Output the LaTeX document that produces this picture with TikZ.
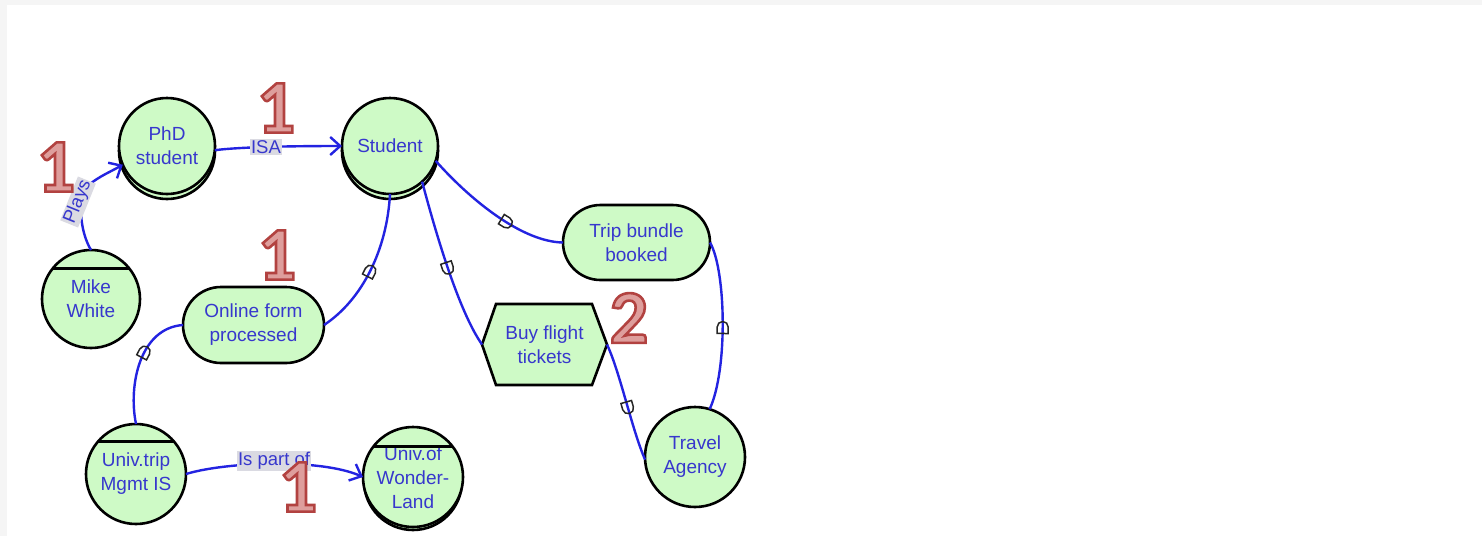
\documentclass[tikz,border=0pt]{standalone}
\usepackage{fontspec}
\setmainfont{Liberation Sans}
\newfontfamily\numfont{Carlito}
\usetikzlibrary{shapes.misc,arrows.meta}
\definecolor{nodefill}{RGB}{206,250,198}
\definecolor{lineblue}{RGB}{35,35,225}
\definecolor{textblue}{RGB}{55,55,205}
\definecolor{labelgray}{RGB}{218,218,226}
\definecolor{bgstrip}{RGB}{245,245,245}
\definecolor{numred}{RGB}{192,80,77}
\newcommand{\redno}[1]{\special{pdf:literal direct 2 Tr 2.6 w 0.70 0.26 0.25 RG 0.87 0.62 0.61 rg}#1\special{pdf:literal direct 0 Tr}}
\tikzset{
  txt/.style={font=\fontsize{19}{24}\selectfont, text=textblue, align=center},
  circ/.style={txt, circle, draw=black, line width=2.6pt, fill=nodefill, minimum size=98pt, inner sep=0pt, outer sep=0pt},
  shade/.style={draw=black, line width=2.6pt, fill=nodefill},
  stadium/.style={txt, rounded rectangle, draw=black, line width=2.6pt, fill=nodefill, inner sep=0pt, outer sep=0pt},
  chord/.style={draw=black, line width=3pt},
  conn/.style={draw=lineblue, line width=2.4pt},
  arr/.style={-{Straight Barb[length=10pt,width=18pt]}},
  lbl/.style={fill=labelgray, inner sep=1pt, font=\fontsize{18.5}{20}\selectfont, text=textblue},
  cupmark/.style={rounded rectangle, rounded rectangle left arc=none, draw=black!85, line width=1.5pt, minimum width=12pt, minimum height=11pt, inner sep=0pt, sloped},
  rednum/.style={font=\numfont\bfseries\fontsize{76}{76}\selectfont, text=numred, inner sep=0pt}
}
\begin{document}
\begin{tikzpicture}[x=1pt,y=-1pt]
\useasboundingbox (0,0) rectangle (1482,536);
\fill[bgstrip] (0,0) rectangle (1482,536);
\fill[white] (7,5) rectangle (1482,536);

% stacked bottoms
\draw[shade] (167,151) circle (48);
\draw[shade] (390,151) circle (48);
\draw[shade] (413,481) circle (49);

% nodes
\node[circ, minimum size=96pt] (phd) at (167,146) {PhD\\student};
\node[circ, minimum size=96pt] (student) at (390,146) {Student};
\node[circ] (mike) at (91,299) {Mike\\White};
\node[stadium, minimum width=141pt, minimum height=76pt] (online) at (253.5,325) {Online form\\processed};
\node[circ, minimum size=100pt] (univ) at (136,474) {Univ.trip\\Mgmt IS};
\node[circ, minimum size=100pt] (wond) at (413,477) {};
\node[txt] (wondtxt) at (413,478) {Univ.of\\Wonder-\\Land};
\node[stadium, minimum width=147pt, minimum height=75pt] (trip) at (636.5,242.5) {Trip bundle\\booked};
\filldraw[shade] (496,304) -- (592,304) -- (607,344.5) -- (592,385) -- (496,385) -- (482,344.5) -- cycle;
\node[txt, rectangle, minimum width=125pt, minimum height=81pt, inner sep=0pt, outer sep=0pt] (buy) at (544.5,344.5) {Buy flight\\tickets};
\node[circ, minimum size=100pt] (travel) at (695,457) {Travel\\Agency};

% chords
\draw[chord] (mike.141) -- (mike.39);
\draw[chord] (univ.140) -- (univ.40);
\draw[chord] (wond.143) -- (wond.37);

% connectors
\draw[conn, arr] (mike.north) .. controls (80,232) and (76,196) .. (90,184) .. controls (100,176) and (110,172) .. (phd.203);
\node[lbl, rotate=68] (plays) at (78,202) {Plays};

\draw[conn, arr] (phd.355) .. controls (240,147) and (290,146) .. (student.180);
\node[lbl] (isa) at (266,147) {ISA};

\draw[conn] (student.270) .. controls (387,250) and (362,300) .. node[cupmark, pos=0.5] (m1) {} (online.east);
\draw[conn] (student.312) .. controls (435,230) and (458,310) .. node[cupmark, pos=0.5] (m2) {} (buy.west);
\draw[conn] (student.342) .. controls (475,205) and (525,242) .. node[cupmark, pos=0.55] (m3) {} (trip.west);
\draw[conn] (trip.east) .. controls (726,270) and (728,370) .. node[cupmark, pos=0.53] (m4) {} (travel.73);
\draw[conn] (buy.east) .. controls (620,372) and (632,430) .. node[cupmark, pos=0.55] (m5) {} (travel.183);
\draw[conn] (online.west) .. controls (140,328) and (128,385) .. node[cupmark, pos=0.42] (m6) {} (univ.north);

\draw[conn, arr] (univ.east) .. controls (225,462) and (320,458) .. (wond.west);
\node[lbl] (ispart) at (274,461) {Is part of};

% red numbers
\node[rednum] (n1) at (56,167) {\redno{1}};
\node[rednum] (n2) at (276,108) {\redno{1}};
\node[rednum] (n3) at (277,255) {\redno{1}};
\node[rednum] (n4) at (298,487) {\redno{1}};
\node[rednum] (n5) at (629,318) {\redno{2}};
\end{tikzpicture}
\end{document}
